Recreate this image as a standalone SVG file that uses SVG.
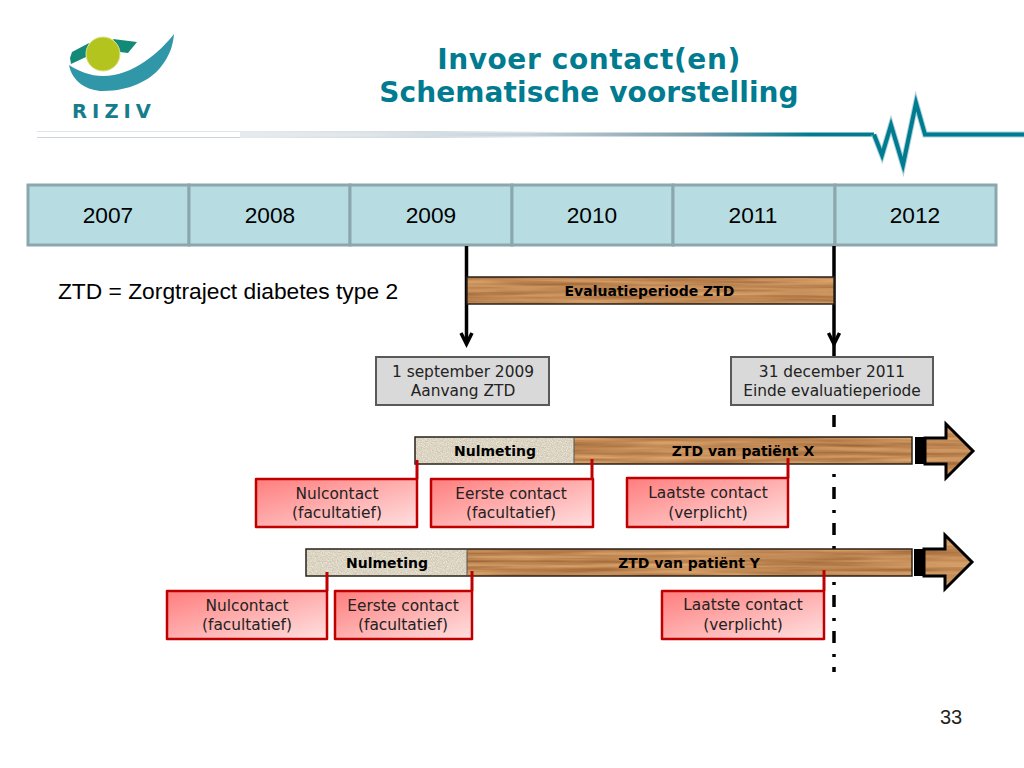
<svg xmlns="http://www.w3.org/2000/svg" width="1024" height="768" viewBox="0 0 1024 768">
<style>
text{text-anchor:middle}
.year{fill:#b7dde2;stroke:#8ba7ad;stroke-width:3}
.yt{font:22.7px "Liberation Sans",Arial,sans-serif;fill:#000}
.gray{fill:#d9d9d9;stroke:#595959;stroke-width:2}
.red{fill:url(#redG);stroke:#c00000;stroke-width:2.5;stroke-linejoin:round}
.lead{fill:none;stroke:#c00000;stroke-width:3}
.lbl{font:15.4px "DejaVu Sans",Verdana,sans-serif;fill:#222}
.bl{font:bold 14px "DejaVu Sans",Verdana,sans-serif;fill:#000}
.edge{fill:none;stroke:#2a2118;stroke-width:1.5}
.arrowline{fill:none;stroke:#000;stroke-width:3.5}
.head{fill:none;stroke:#000;stroke-width:3.5}
.zig{fill:none;stroke-miterlimit:12}
</style>
<defs>
<linearGradient id="redG" x1="0" y1="0" x2="1" y2="1"><stop offset="0" stop-color="#ff7d7d"/><stop offset="1" stop-color="#ffe0e0"/></linearGradient>
<linearGradient id="rule" x1="0" x2="1" y1="0" y2="0"><stop offset="0" stop-color="#e6ebee"/><stop offset="0.2" stop-color="#e0e6ea"/><stop offset="0.45" stop-color="#c5d2da"/><stop offset="0.72" stop-color="#7e9cac"/><stop offset="0.9" stop-color="#007b8f"/><stop offset="1" stop-color="#007b8f"/></linearGradient>
<linearGradient id="ruleSoft" x1="0" x2="1" y1="0" y2="0"><stop offset="0" stop-color="#e4e9ec"/><stop offset="0.6" stop-color="#d0dce2"/><stop offset="1" stop-color="#ffffff"/></linearGradient>
<filter id="wood" x="0" y="0" width="1" height="1" color-interpolation-filters="sRGB">
<feTurbulence type="fractalNoise" baseFrequency="0.008 0.25" numOctaves="3" seed="4"/>
<feColorMatrix type="matrix" values="0.35 0 0 0 0.58  0.35 0 0 0 0.36  0.3 0 0 0 0.18  0 0 0 0 1"/>
</filter>
<filter id="stone" x="0" y="0" width="1" height="1" color-interpolation-filters="sRGB">
<feTurbulence type="fractalNoise" baseFrequency="0.8" numOctaves="2" seed="7"/>
<feColorMatrix type="matrix" values="0.25 0 0 0 0.74  0.25 0 0 0 0.71  0.25 0 0 0 0.64  0 0 0 0 1"/>
</filter>
<clipPath id="clipX"><path d="M925 438H946V424L973 451L946 478V464H925Z"/></clipPath>
<clipPath id="clipY"><path d="M924 549H945V535L972 562L945 589V576H924Z"/></clipPath>
</defs>
<rect width="1024" height="768" fill="#fff"/>

<g id="logo">
<path d="M69 65C72 82 88 91 103 91C130 91 150 80 160 68C170 56 173 45 174 34C160 52 133 76 103 76C90 76 78 71 69 65Z" fill="#3097a8"/>
<path d="M89 43L72 52L70 58L71 64L86 57Z" fill="#138a78"/>
<path d="M113 39L137 42L128 53L120 52Z" fill="#138a78"/>
<circle cx="103" cy="54" r="17" fill="#b2c41d" stroke="#dfe38a" stroke-width="1"/>
<text x="114" y="118" style="font:bold 19.500px 'DejaVu Sans',Verdana,sans-serif;letter-spacing:5px" fill="#157d8c">RIZIV</text>
</g>

<g id="header-rule">
<path d="M37 131.500H240" stroke="#dfe5e8" stroke-width="1" fill="none"/>
<path d="M37 137.500H240" stroke="#cdd5da" stroke-width="1" fill="none"/>
<rect x="240" y="131" width="320" height="7" fill="url(#ruleSoft)"/>
<rect x="240" y="132.500" width="634" height="4" fill="url(#rule)"/>
<path class="zig" d="M874 134.500L882 155L891 125L903 165L916 103L925 134.500H1024" stroke="#a8d3da" stroke-width="6"/>
<path class="zig" d="M874 134.500L882 155L891 125L903 165L916 103L925 134.500H1024" stroke="#007b8f" stroke-width="4"/>
</g>

<g id="title" style="font:bold 28px 'DejaVu Sans',Verdana,sans-serif" fill="#007b8f">
<text x="589" y="69" style="letter-spacing:.6px">Invoer contact(en)</text>
<text x="589" y="102" style="letter-spacing:.1px">Schematische voorstelling</text>
</g>

<g id="y2007"><rect class="year" x="28" y="185" width="161" height="60"/><text class="yt" x="108" y="223">2007</text></g>
<g id="y2008"><rect class="year" x="189" y="185" width="161" height="60"/><text class="yt" x="270" y="223">2008</text></g>
<g id="y2009"><rect class="year" x="350" y="185" width="162" height="60"/><text class="yt" x="431" y="223">2009</text></g>
<g id="y2010"><rect class="year" x="512" y="185" width="161" height="60"/><text class="yt" x="592" y="223">2010</text></g>
<g id="y2011"><rect class="year" x="673" y="185" width="162" height="60"/><text class="yt" x="753" y="223">2011</text></g>
<g id="y2012"><rect class="year" x="835" y="185" width="161" height="60"/><text class="yt" x="915" y="223">2012</text></g>

<text id="legend" x="228" y="299" style="font:22.8px 'Liberation Sans',Arial,sans-serif">ZTD = Zorgtraject diabetes type 2</text>

<g id="connectors">
<path class="arrowline" d="M466.500 246V343"/>
<path class="head" d="M461 333L466.500 344L472 333"/>
<path class="arrowline" d="M834 246V357"/>
<path class="head" d="M828.500 333L834 344L839.500 333"/>
<path d="M834 415V672" fill="none" stroke="#000" stroke-width="3.500" stroke-dasharray="12 11 3 10"/>
</g>

<g id="evaluatie">
<rect x="467" y="277" width="367" height="27" filter="url(#wood)"/>
<rect class="edge" x="467" y="277" width="367" height="27"/>
<text class="bl" x="649.500" y="296">Evaluatieperiode ZTD</text>
</g>

<g id="start-box"><rect class="gray" x="376" y="357" width="173" height="48"/><text class="lbl" x="463" y="377">1 september 2009</text><text class="lbl" x="463" y="396">Aanvang ZTD</text></g>
<g id="end-box"><rect class="gray" x="731" y="357" width="202" height="48"/><text class="lbl" x="832" y="377">31 december 2011</text><text class="lbl" x="832" y="396">Einde evaluatieperiode</text></g>

<g id="bar-x">
<rect x="574" y="437" width="338" height="27" filter="url(#wood)"/>
<rect x="415" y="437" width="159" height="27" filter="url(#stone)"/>
<rect class="edge" x="415" y="437" width="497" height="27"/>
<path d="M574 437V464" stroke="#555" stroke-width="1" fill="none"/>
<text class="bl" x="495" y="456">Nulmeting</text>
<text class="bl" x="743" y="456">ZTD van patiënt X</text>
</g>
<g id="arrow-x">
<g clip-path="url(#clipX)"><rect x="925" y="424" width="48" height="54" filter="url(#wood)"/></g>
<rect x="915" y="437" width="10" height="27" fill="#000"/>
<path d="M925 438H946V424L973 451L946 478V464H925Z" fill="none" stroke="#000" stroke-width="3"/>
</g>

<g id="bar-y">
<rect x="467" y="549" width="445" height="27" filter="url(#wood)"/>
<rect x="306" y="549" width="161" height="27" filter="url(#stone)"/>
<rect class="edge" x="306" y="549" width="606" height="27"/>
<path d="M467 549V576" stroke="#555" stroke-width="1" fill="none"/>
<text class="bl" x="387" y="568">Nulmeting</text>
<text class="bl" x="689" y="568">ZTD van patiënt Y</text>
</g>
<g id="arrow-y">
<g clip-path="url(#clipY)"><rect x="924" y="535" width="48" height="54" filter="url(#wood)"/></g>
<rect x="914" y="549" width="10" height="27" fill="#000"/>
<path d="M924 549H945V535L972 562L945 589V576H924Z" fill="none" stroke="#000" stroke-width="3"/>
</g>

<g id="c1"><rect class="red" x="256" y="479" width="161" height="48"/><path class="lead" d="M417 479V460"/><text class="lbl" x="337" y="499">Nulcontact</text><text class="lbl" x="337" y="518">(facultatief)</text></g>
<g id="c2"><rect class="red" x="431" y="479" width="162" height="48"/><path class="lead" d="M592 479V459"/><text class="lbl" x="511" y="499">Eerste contact</text><text class="lbl" x="511" y="518">(facultatief)</text></g>
<g id="c3"><rect class="red" x="627" y="478" width="161" height="49"/><path class="lead" d="M788 478V458"/><text class="lbl" x="708" y="498">Laatste contact</text><text class="lbl" x="708" y="518">(verplicht)</text></g>
<g id="c4"><rect class="red" x="167" y="591" width="160" height="48"/><path class="lead" d="M327 591V572"/><text class="lbl" x="247" y="611">Nulcontact</text><text class="lbl" x="247" y="630">(facultatief)</text></g>
<g id="c5"><rect class="red" x="335" y="591" width="137" height="48"/><path class="lead" d="M472 591V571"/><text class="lbl" x="403" y="611">Eerste contact</text><text class="lbl" x="403" y="630">(facultatief)</text></g>
<g id="c6"><rect class="red" x="662" y="591" width="162" height="48"/><path class="lead" d="M824 591V570"/><text class="lbl" x="743" y="610">Laatste contact</text><text class="lbl" x="743" y="630">(verplicht)</text></g>

<text id="page" x="951" y="724" style="font:20px 'Liberation Sans',Arial,sans-serif" fill="#222">33</text>
</svg>
